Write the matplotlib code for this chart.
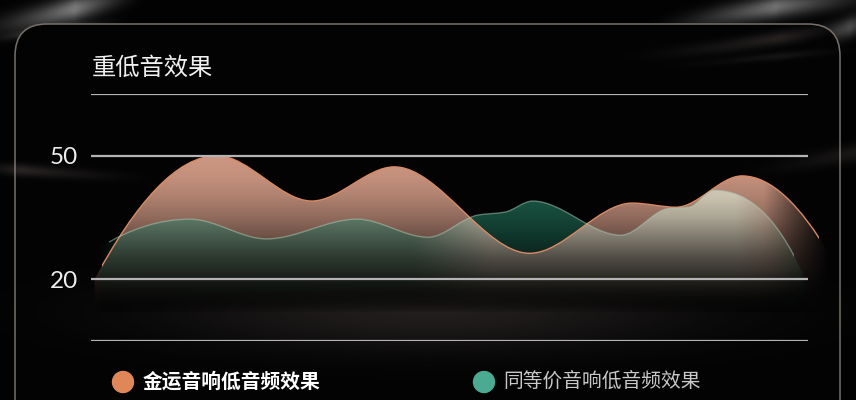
import numpy as np
import matplotlib
matplotlib.use("Agg")
import matplotlib.pyplot as plt
from matplotlib.path import Path
from matplotlib.patches import PathPatch, FancyBboxPatch, Circle, Rectangle

# values (x = position across the plot, 0..100)
title = "重低音效果"
series_names = ["金运音响低音频效果", "同等价音响低音频效果"]
grid_values = [5, 20, 50, 65]
tick_values = [20, 50]
tick_labels = ["20", "50"]

gold_x = [0.5, 17.6, 30.8, 42.3, 61.2, 75.5, 81.6, 90.8, 103.0]
gold_v = [20.0, 50.0, 39.0, 47.3, 26.3, 38.5, 37.5, 45.1, 26.0]

peer_x = [1.3, 13.8, 24.5, 37.1, 47.0, 54.0, 57.7, 61.6, 73.9, 80.6, 83.4, 86.9, 99.5]
peer_v = [27.8, 34.6, 29.8, 34.6, 30.2, 35.6, 36.3, 39.0, 30.7, 37.2, 37.5, 41.6, 20.5]

W, H = 856, 400
XMAX = 749 / 7.17
BASE = 8

fig = plt.figure(figsize=(W / 100, H / 100), dpi=100, facecolor="#020203")

# ---------- background: silk streaks + rounded panel ----------
bg = fig.add_axes([0, 0, 1, 1], zorder=0)
bg.set_xlim(0, W)
bg.set_ylim(H, 0)
bg.axis("off")
gy, gx = np.mgrid[0:H, 0:W] + 0.5


def streak(xs, ys, width, strength, span):
    centre = np.interp(gx, xs, ys)
    along = np.interp(gx, span, [0, 1, 0])
    return strength * along ** 1.5 * np.exp(-((gy - centre) / width) ** 2)


outer = (streak([-20, 40, 90, 140], [30, 17, 5, -8], 12, 0.6, [-40, 75, 150])
         + streak([-10, 60, 130], [40, 28, 20], 4, 0.22, [-20, 40, 140])
         + streak([650, 720, 780, 880], [30, 16, 6, -5], 11, 0.55, [640, 775, 900])
         + streak([800, 856], [45, 25], 10, 0.35, [790, 850, 900]))
img = np.zeros((H, W, 4))
img[..., :3] = 0.8
img[..., 3] = np.clip(outer, 0, 1)
bg.imshow(img, extent=(0, W, H, 0), origin="upper", aspect="auto", zorder=1)

panel = FancyBboxPatch((15, 24), 825, 420, boxstyle="round,pad=0,rounding_size=32",
                       fc="#030304", ec="#77706a", lw=1.1, zorder=2)
bg.add_patch(panel)

inner = (streak([-10, 80, 170], [168, 174, 180], 6, 0.2, [-30, 20, 170])
         + streak([620, 720, 800, 870], [58, 47, 35, 20], 7, 0.18, [600, 780, 870])
         + streak([650, 760, 870], [68, 58, 48], 4, 0.1, [640, 780, 880])
         + streak([730, 800, 870], [175, 163, 150], 9, 0.13, [720, 856, 900]))
glow = 0.16 * np.exp(-((gx - 430) / 260) ** 2 - ((gy - 312) / 38) ** 2)
img2 = np.zeros((H, W, 4))
img2[..., 0] = 0.75
img2[..., 1] = 0.68
img2[..., 2] = 0.62
img2[..., 3] = np.clip(inner + glow, 0, 1)
bg.imshow(img2, extent=(0, W, H, 0), origin="upper", aspect="auto", zorder=3)

cjk = ["Noto Sans CJK SC", "DejaVu Sans"]
bg.text(92, 68, title, fontsize=17.5, color="#f0f0f0", family=cjk, va="center", zorder=5)
bg.add_patch(Circle((123, 382), 10.5, color="#E0875A", zorder=5))
bg.text(143, 382, series_names[0], fontsize=14.2, color="#ffffff", family=cjk,
        weight="bold", va="center", zorder=5)
bg.add_patch(Circle((484, 382), 10.5, color="#4BAA91", zorder=5))
bg.text(503, 382, series_names[1], fontsize=14.2, color="#c8c8c8", family=cjk,
        va="center", zorder=5)

# ---------- chart ----------
ax = fig.add_axes([91 / W, 59 / H, 749 / W, 247 / H], zorder=1)
ax.patch.set_alpha(0)


def slopes(x, v):
    x = np.asarray(x, float)
    v = np.asarray(v, float)
    h = np.diff(x)
    d = np.diff(v) / h
    m = np.zeros_like(x)
    for k in range(1, len(x) - 1):
        if d[k - 1] * d[k] > 0:
            w1 = 2 * h[k] + h[k - 1]
            w2 = h[k] + 2 * h[k - 1]
            m[k] = (w1 + w2) / (w1 / d[k - 1] + w2 / d[k])
    m[0] = ((2 * h[0] + h[1]) * d[0] - h[0] * d[1]) / (h[0] + h[1])
    m[-1] = ((2 * h[-1] + h[-2]) * d[-1] - h[-1] * d[-2]) / (h[-1] + h[-2])
    return x, v, m


def curve_path(x, v, closed):
    x, v, m = slopes(x, v)
    verts = [(x[0], v[0])]
    codes = [Path.MOVETO]
    for k in range(len(x) - 1):
        h = x[k + 1] - x[k]
        verts += [(x[k] + h / 3, v[k] + m[k] * h / 3),
                  (x[k + 1] - h / 3, v[k + 1] - m[k + 1] * h / 3),
                  (x[k + 1], v[k + 1])]
        codes += [Path.CURVE4] * 3
    if closed:
        verts += [(x[-1], BASE), (x[0], BASE), (x[0], v[0])]
        codes += [Path.LINETO, Path.LINETO, Path.CLOSEPOLY]
    return Path(verts, codes)


def evaluate(x, v, q):
    x, v, m = slopes(x, v)
    q = np.clip(q, x[0], x[-1])
    k = np.clip(np.searchsorted(x, q) - 1, 0, len(x) - 2)
    h = x[k + 1] - x[k]
    t = (q - x[k]) / h
    return ((2 * t**3 - 3 * t**2 + 1) * v[k] + (t**3 - 2 * t**2 + t) * h * m[k]
            + (-2 * t**3 + 3 * t**2) * v[k + 1] + (t**3 - t**2) * h * m[k + 1])


gold_fill = PathPatch(curve_path(gold_x, gold_v, True), fc="none", ec="none",
                      transform=ax.transData)
peer_fill = PathPatch(curve_path(peer_x, peer_v, True), fc="none", ec="none",
                      transform=ax.transData)
ax.add_patch(gold_fill)
ax.add_patch(peer_fill)

X, V = np.meshgrid(np.linspace(0, XMAX, 900), np.linspace(BASE, 52, 500))
ext = (0, XMAX, BASE, 52)
shade = np.interp(V, [12, 17, 20, 25, 30, 35, 40, 45, 50],
                  [0, .12, .2, .35, .52, .7, .85, .95, 1])
shade2 = np.interp(V, [12, 17, 20, 25, 30, 35, 40], [0, .1, .2, .38, .62, .85, 1])
bottom = np.clip((V - 12) / 10, 0, 1)

teal = np.zeros(X.shape + (4,))
teal[..., :3] = np.array([30, 100, 80]) / 255 * shade[..., None]
teal[..., 3] = bottom * np.clip((X - 1) / 6, 0, 1)
im = ax.imshow(teal, extent=ext, origin="lower", aspect="auto", zorder=2)
im.set_clip_path(peer_fill)

gold = np.zeros(X.shape + (4,))
gold[..., :3] = np.array([206, 152, 131]) / 255 * shade[..., None]
gold[..., 3] = bottom * np.clip((103 - X) / 9, 0, 1)
im = ax.imshow(gold, extent=ext, origin="lower", aspect="auto", zorder=3)
im.set_clip_path(gold_fill)

mix = np.interp(X, [45, 56], [0, 1])[..., None]
tint = (np.array([88, 150, 126]) * (1 - mix) + np.array([215, 222, 202]) * mix) / 255
over = np.zeros(X.shape + (4,))
over[..., :3] = np.clip(tint * shade2[..., None], 0, 1)
over[..., 3] = (0.72 * bottom * (V < evaluate(gold_x, gold_v, X))
                * np.clip((100 - X) / 10, 0, 1))
im = ax.imshow(over, extent=ext, origin="lower", aspect="auto", zorder=4,
               interpolation="bilinear")
im.set_clip_path(peer_fill)

gold_line = PathPatch(curve_path(gold_x, gold_v, False), fill=False, ec="#D98A65",
                      lw=1.0, zorder=5)
ax.add_patch(gold_line)
gold_line.set_clip_path(Rectangle((1.5, 0), 100.0, 70, transform=ax.transData))
peer_line = PathPatch(curve_path(peer_x, peer_v, False), fill=False, ec="#A9CBB8",
                      lw=1.0, alpha=0.5, zorder=6)
ax.add_patch(peer_line)
peer_line.set_clip_path(Rectangle((2.5, 0), 95.5, 70, transform=ax.transData))

ax.hlines(grid_values, 0, 100, color="#b4b4b4", lw=1.6, zorder=7)

ax.set_xlim(0, XMAX)
ax.set_ylim(5, 65)
for s in ax.spines.values():
    s.set_visible(False)
ax.set_xticks([])
ax.set_yticks(tick_values)
ax.set_yticklabels(tick_labels, fontsize=17.5, color="#ededed", family="Lato")
ax.tick_params(axis="y", length=0, pad=9.4)

fig.savefig("out.png", dpi=100, facecolor=fig.get_facecolor())
